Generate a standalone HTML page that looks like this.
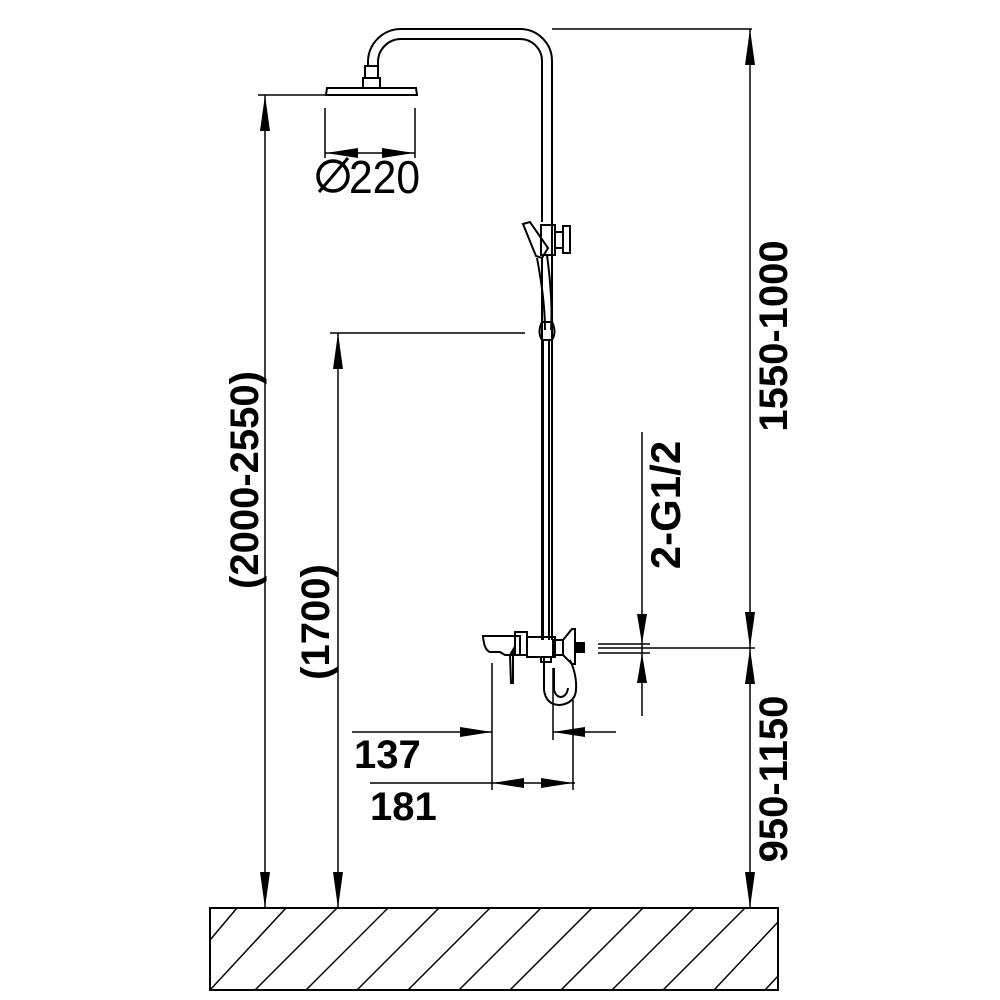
<!DOCTYPE html>
<html><head><meta charset="utf-8"><style>
html,body{margin:0;padding:0;background:#fff;}
svg{display:block}
text{font-family:"Liberation Sans",sans-serif;font-weight:bold;fill:#000}
</style></head><body>
<svg width="1000" height="1000" viewBox="0 0 1000 1000" xmlns="http://www.w3.org/2000/svg">
<g fill="none" stroke="#000" stroke-width="2">
<path d="M368 66 V62 A33 33 0 0 1 401 29 H520 A32 32 0 0 1 552 61 V640"/>
<path d="M378 66 V62 A23 23 0 0 1 401 39 H520 A22 22 0 0 1 542 61 V222"/>
<path d="M542 258 V640" />
<rect x="365" y="66" width="13" height="12"/>
<rect x="363" y="78" width="17" height="10"/>
<path d="M327 88 H416 L417 95 H326 Z" stroke-width="2"/>
<line x1="325" y1="108" x2="325" y2="158" stroke-width="1.5"/>
<line x1="415" y1="108" x2="415" y2="158" stroke-width="1.5"/>
<line x1="325" y1="153" x2="415" y2="153" stroke-width="1.5"/>
<line x1="552" y1="29" x2="752" y2="29" stroke-width="1.5"/>
<line x1="258" y1="95" x2="326" y2="95" stroke-width="1.5"/>
<line x1="330" y1="333" x2="525" y2="333" stroke-width="1.5"/>
<path d="M523 224 L530 222 L548 248 L542 258 L536 256 Z"/>
<rect x="541" y="225" width="14" height="30"/>
<path d="M555 232 H563 V248 H555"/>
<rect x="563" y="226" width="7" height="27"/>
<path d="M537 258 Q545 300 545 330 M547 255 Q553 300 551 330"/>
<path d="M542 322 Q537 332 542 340 H552 Q557 332 552 322 Z"/>
<path d="M543 340 V640 M549 340 V640"/>
<path d="M483 636 H520 V655 H505 L500 652 H490 Q484 650 483 636 Z"/>
<rect x="515" y="632" width="12" height="23"/>
<path d="M510 655 L513 650 V683 H511 Z"/>
<rect x="527" y="637" width="28" height="20"/>
<rect x="553" y="640" width="10" height="15"/>
<path d="M563 640 L572 629 H575 V664 H572 L563 655"/>
<rect x="576" y="643" width="8" height="9" fill="#000"/>
<path d="M544 657 V690 Q546 705 560 705 Q575 703 576 690 Q577 675 570 660"/>
<path d="M554 668 V690 Q556 697 561 697 Q567 696 568 688"/>
<rect x="541" y="657" width="10" height="5"/>
<g stroke-width="1.5">
<line x1="750" y1="29" x2="750" y2="908"/>
<line x1="265" y1="95" x2="265" y2="908"/>
<line x1="338" y1="333" x2="338" y2="908"/>
<line x1="642" y1="432" x2="642" y2="716"/>
<line x1="598" y1="644" x2="650" y2="644"/>
<line x1="598" y1="648" x2="755" y2="648"/>
<line x1="598" y1="653" x2="650" y2="653"/>
<line x1="492" y1="663" x2="492" y2="790"/>
<line x1="553" y1="668" x2="553" y2="740"/>
<line x1="573" y1="700" x2="573" y2="790"/>
<line x1="352" y1="732" x2="492" y2="732"/>
<line x1="553" y1="732" x2="616" y2="732"/>
<line x1="370" y1="783" x2="575" y2="783"/>
</g>
<rect x="210" y="908" width="568" height="82" stroke-width="2"/>
<g stroke-width="1.5">
<line x1="210" y1="940" x2="237" y2="908"/>
<line x1="210" y1="990" x2="286" y2="908"/>
<line x1="255" y1="990" x2="337" y2="908"/>
<line x1="306" y1="990" x2="388" y2="908"/>
<line x1="357" y1="990" x2="439" y2="908"/>
<line x1="408" y1="990" x2="490" y2="908"/>
<line x1="459" y1="990" x2="541" y2="908"/>
<line x1="510" y1="990" x2="592" y2="908"/>
<line x1="561" y1="990" x2="643" y2="908"/>
<line x1="612" y1="990" x2="694" y2="908"/>
<line x1="663" y1="990" x2="745" y2="908"/>
<line x1="714" y1="990" x2="778" y2="922"/>
<line x1="765" y1="990" x2="778" y2="976"/>
</g>
<circle cx="333" cy="176" r="15" stroke-width="3.5"/>
<line x1="319" y1="192" x2="348" y2="158" stroke-width="3"/>
</g>
<g fill="#000">
<path d="M750 29 L745 65 H755 Z"/>
<path d="M750 648 L745 612 H755 Z"/>
<path d="M750 648 L745 684 H755 Z"/>
<path d="M750 908 L745 872 H755 Z"/>
<path d="M265 95 L260 131 H270 Z"/>
<path d="M265 908 L260 872 H270 Z"/>
<path d="M338 333 L333 369 H343 Z"/>
<path d="M338 908 L333 872 H343 Z"/>
<path d="M642 644 L637 614 H647 Z"/>
<path d="M642 653 L637 683 H647 Z"/>
<path d="M492 732 L460 727 V737 Z"/>
<path d="M553 732 L585 727 V737 Z"/>
<path d="M492 783 L524 778 V788 Z"/>
<path d="M573 783 L541 778 V788 Z"/>
<path d="M326 153 L358 148 V158 Z"/>
<path d="M414 153 L382 148 V158 Z"/>
</g>
<text x="349" y="193" font-size="46" style="font-weight:normal" textLength="71" lengthAdjust="spacingAndGlyphs">220</text>
<text x="354" y="768" font-size="40">137</text>
<text x="370" y="820" font-size="40">181</text>
<text transform="translate(787,336) rotate(-90)" font-size="40" text-anchor="middle">1550-1000</text>
<text transform="translate(787,779) rotate(-90)" font-size="40" text-anchor="middle">950-1150</text>
<text transform="translate(258,480) rotate(-90)" font-size="40" text-anchor="middle">(2000-2550)</text>
<text transform="translate(329,622) rotate(-90)" font-size="40" text-anchor="middle">(1700)</text>
<text transform="translate(680,505) rotate(-90)" font-size="42" text-anchor="middle">2-G1/2</text>
</svg>
</body></html>
